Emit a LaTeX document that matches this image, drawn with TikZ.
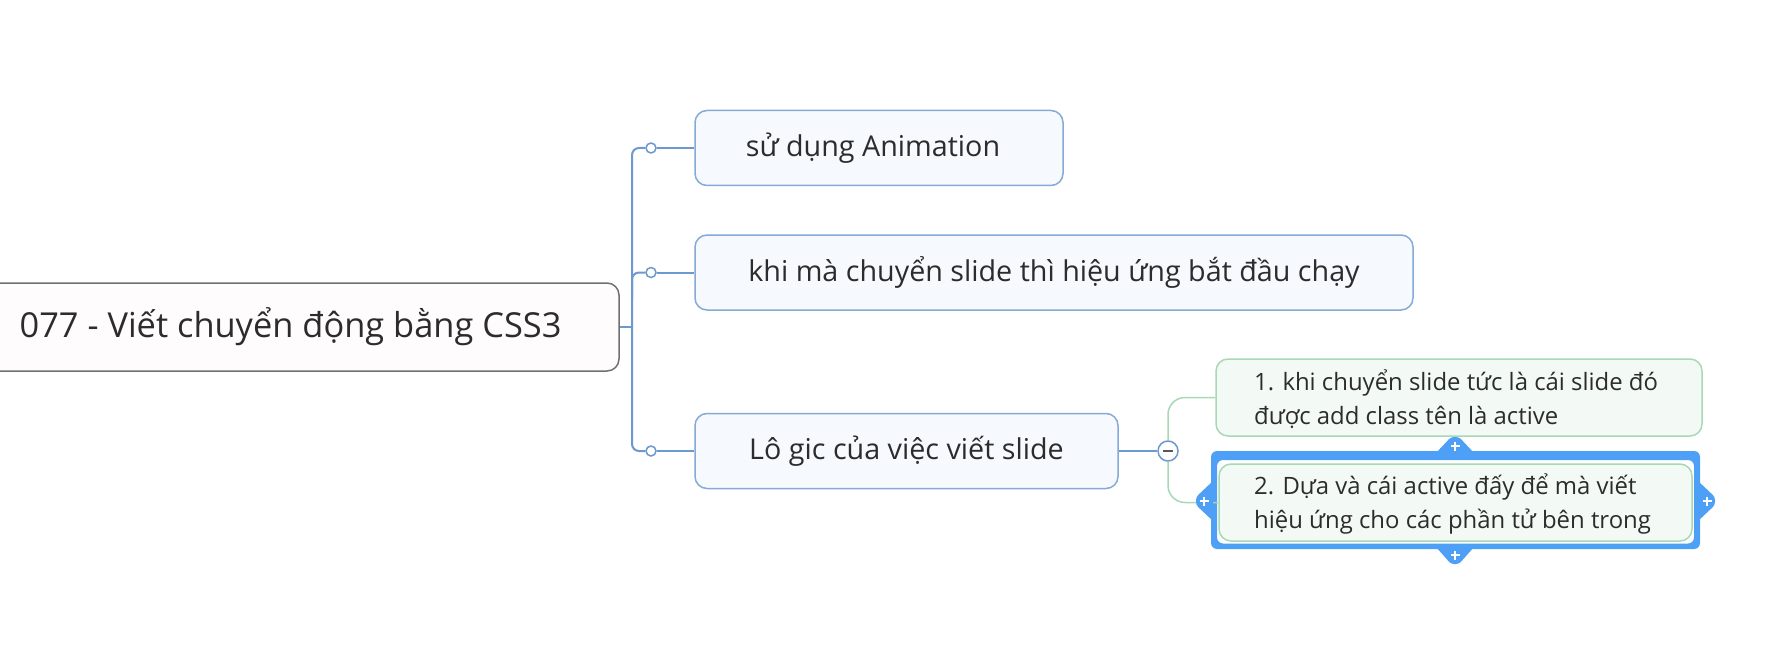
\documentclass[tikz,border=0pt]{standalone}
\usepackage{fontspec}
\setmainfont{Open Sans}
\definecolor{nodeblue}{HTML}{86AAD6}
\definecolor{connblue}{HTML}{6C99CE}
\definecolor{nodefill}{HTML}{F6FAFF}
\definecolor{rootline}{HTML}{707070}
\definecolor{rootfill}{HTML}{FFFCFD}
\definecolor{subline}{HTML}{A8D8B6}
\definecolor{subfill}{HTML}{F3FAF5}
\definecolor{selblue}{HTML}{4DA0F5}
\definecolor{txt}{HTML}{2C2C2C}
\newcommand\rootfnt{\fontsize{34.4}{40}\selectfont}
\newcommand\nodefnt{\fontsize{28.7}{34}\selectfont}
\newcommand\subfnt{\fontsize{23.9}{34}\selectfont}
\begin{document}
\begin{tikzpicture}[x=1pt,y=-1pt,
  rootbox/.style={draw=rootline, fill=rootfill, line width=1.5, rounded corners=12, minimum width=657, minimum height=88, font=\rootfnt, text=txt},
  mainbox/.style={draw=nodeblue, fill=nodefill, line width=1.5, rounded corners=12, minimum height=75, font=\nodefnt, text=txt},
  subbox/.style={draw=subline, fill=subfill, line width=1.5, rounded corners=12, minimum height=77},
  subtext/.style={font=\subfnt, text=txt, align=left, anchor=west, inner sep=0},
  conn/.style={draw=connblue, line width=2},
  subconn/.style={draw=subline, line width=1.5},
  dot/.style={circle, draw=connblue, fill=white, line width=1.5, minimum size=10, inner sep=0},
  handle/.style={fill=selblue, rounded corners=3}]
\useasboundingbox (0,0) rectangle (1771,671);
\clip (0,0) rectangle (1771,671);
\fill[white] (0,0) rectangle (1771,671);

% root
\node[rootbox] (root) at (290.5,327) {077 - Viết chuyển động bằng CSS3};

% main branches
\node[mainbox, minimum width=368] (n1) at (879,148) {\hspace*{-12pt}sử dụng Animation};
\node[mainbox, minimum width=718] (n2) at (1054,272.5) {khi mà chuyển slide thì hiệu ứng bắt đầu chạy};
\node[mainbox, minimum width=423] (n3) at (906.5,451) {Lô gic của việc viết slide};

% trunk
\coordinate (j) at (632,327);
\node[dot] (d1) at (651,148) {};
\node[dot] (d2) at (651,272.5) {};
\node[dot] (d3) at (651,451) {};
\draw[conn] (root.east) -- (j);
\draw[conn, rounded corners=7] (d1) -- (632,148) -- (632,451) -- (d3);
\draw[conn, rounded corners=7] (632,300) -- (632,272.5) -- (d2);
\draw[conn] (d1) -- (n1);
\draw[conn] (d2) -- (n2);
\draw[conn] (d3) -- (n3);

% sub branches
\node[subbox, minimum width=486] (a) at (1459,397.5) {};
\node[subtext] (atext) at (1254,399.5) {1. khi chuyển slide tức là cái slide đó\\được add class tên là active};
\node[circle, draw=connblue, fill=white, line width=1.5, minimum size=20, inner sep=0] (m) at (1168,451) {};
\draw[line width=2.5, color=black!65] ([xshift=-5]m.center) -- ([xshift=5]m.center);
\draw[conn] (n3) -- (m);
\draw[subconn, rounded corners=17] (m) |- (a.west);

% selection frame (drawn under box B)
\fill[selblue, even odd rule, rounded corners=6] (1211,451) rectangle (1700,549) (1217,460) rectangle (1694,543.5);
\node[subbox, minimum width=473] (b) at (1455.5,502.5) {};
\node[subtext] (btext) at (1254,504) {2. Dựa và cái active đấy để mà viết\\hiệu ứng cho các phần tử bên trong};
\draw[subconn, rounded corners=17] (m) |- (b.west);

% handles
\fill[handle] (1436,453) -- (1451,437) -- (1459,437) -- (1474,453) -- cycle;
\fill[handle] (1436,547) -- (1451,564) -- (1459,564) -- (1474,547) -- cycle;
\fill[handle] (1698,481) -- (1715,497) -- (1715,505) -- (1698,521) -- cycle;
\fill[handle] (1213,481) -- (1196,497) -- (1196,505) -- (1213,521) -- cycle;
\foreach \px/\py in {1455/446, 1455/555, 1707/501, 1204/501}{
  \draw[white, line width=2.5] (\px-4.5,\py) -- (\px+4.5,\py) (\px,\py-4.5) -- (\px,\py+4.5);
}
\end{tikzpicture}
\end{document}
